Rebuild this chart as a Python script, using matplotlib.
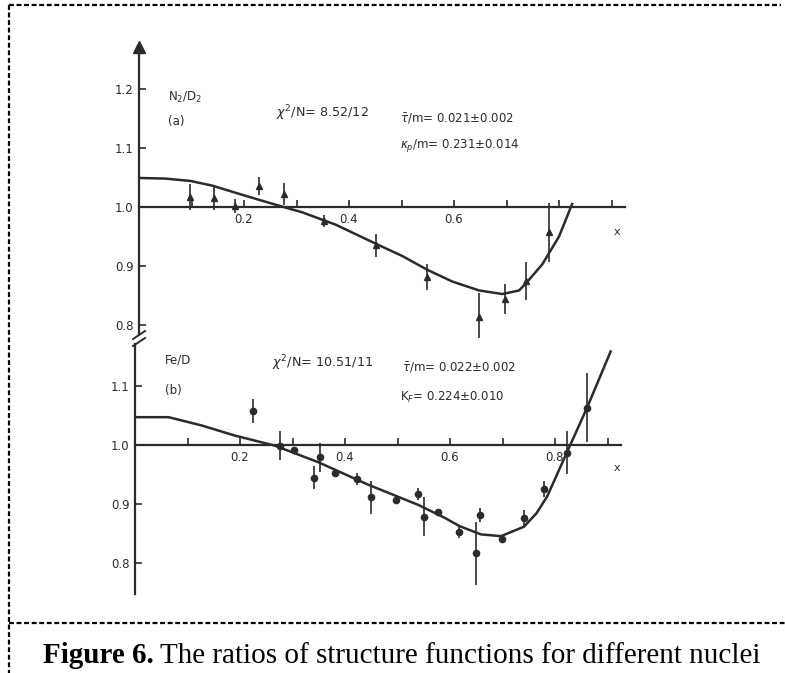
import matplotlib
matplotlib.use("Agg")
import matplotlib.pyplot as plt
from matplotlib.lines import Line2D

W, H = 785, 673
INK = "#2b2b2b"

# ---------------- data ----------------
# panel (a): N2/D2
a_x = [0.098, 0.142, 0.182, 0.229, 0.276, 0.352, 0.451, 0.549, 0.648, 0.697, 0.738, 0.781]
a_y = [1.017, 1.015, 1.002, 1.036, 1.022, 0.976, 0.935, 0.881, 0.815, 0.845, 0.875, 0.957]
a_err = [0.022, 0.020, 0.012, 0.015, 0.018, 0.010, 0.020, 0.022, 0.040, 0.025, 0.032, 0.050]
a_fit_x = [0.003, 0.050, 0.098, 0.140, 0.184, 0.229, 0.260, 0.311, 0.375, 0.451, 0.502, 0.549,
           0.597, 0.648, 0.692, 0.724, 0.738, 0.768, 0.800, 0.825]
a_fit_y = [1.049, 1.048, 1.044, 1.036, 1.024, 1.012, 1.004, 0.991, 0.970, 0.938, 0.917, 0.894,
           0.874, 0.859, 0.853, 0.859, 0.872, 0.903, 0.950, 1.005]

# panel (b): Fe/D
b_x = [0.225, 0.276, 0.303, 0.341, 0.352, 0.380, 0.422, 0.449, 0.497, 0.539,
       0.550, 0.577, 0.618, 0.649, 0.657, 0.699, 0.740, 0.779, 0.822, 0.861]
b_y = [1.057, 0.999, 0.991, 0.945, 0.979, 0.952, 0.943, 0.912, 0.907, 0.917,
       0.879, 0.886, 0.853, 0.817, 0.882, 0.841, 0.877, 0.926, 0.987, 1.063]
b_err = [0.020, 0.025, 0.005, 0.020, 0.025, 0.005, 0.010, 0.028, 0.005, 0.010,
         0.033, 0.005, 0.010, 0.053, 0.012, 0.006, 0.014, 0.014, 0.036, 0.058]
b_fit_x = [0.004, 0.064, 0.127, 0.190, 0.266, 0.349, 0.444, 0.539, 0.590, 0.618, 0.659,
           0.697, 0.741, 0.765, 0.785, 0.823, 0.861, 0.906]
b_fit_y = [1.047, 1.047, 1.033, 1.016, 0.999, 0.971, 0.933, 0.899, 0.877, 0.863, 0.849,
           0.846, 0.862, 0.885, 0.913, 0.988, 1.063, 1.158]

a_yticks = [0.8, 0.9, 1.0, 1.1, 1.2]
a_yticklabels = ["0.8", "0.9", "1.0", "1.1", "1.2"]
b_yticks = [0.8, 0.9, 1.0, 1.1]
b_yticklabels = ["0.8", "0.9", "1.0", "1.1"]
xticks = [0.1, 0.2, 0.3, 0.4, 0.5, 0.6, 0.7, 0.8, 0.9]
a_xticklabels = ["", "0.2", "", "0.4", "", "0.6", "", "", ""]
b_xticklabels = ["", "0.2", "", "0.4", "", "0.6", "", "0.8", ""]

# ---------------- figure ----------------
fig = plt.figure(figsize=(W / 100, H / 100), dpi=100)
fig.patch.set_facecolor("white")


def fx(px):
    return px / W


def fy(py):
    return 1 - py / H


def setup(ax, x0px, one_px, top_px, bot_px, left_px, right_px, ybounds):
    scale_x = 525.0
    scale_y = 592.0
    ax.set_xlim((left_px - x0px) / scale_x, (right_px - x0px) / scale_x)
    ax.set_ylim(1 - (bot_px - one_px) / scale_y, 1 + (one_px - top_px) / scale_y)
    ax.patch.set_alpha(0)
    for s in ("top", "right"):
        ax.spines[s].set_visible(False)
    ax.spines["left"].set_position(("data", 0))
    ax.spines["bottom"].set_position(("data", 1.0))
    ax.spines["bottom"].set_bounds(0, 0.925)
    ax.spines["left"].set_bounds(*ybounds)
    for s in ("left", "bottom"):
        ax.spines[s].set_color(INK)
        ax.spines[s].set_linewidth(1.6)
    ax.tick_params(axis="both", direction="in", colors=INK, labelsize=8.5,
                   length=5, width=1.2, pad=4)


# panel (a)
ax1 = fig.add_axes([fx(120), fy(338), 520 / W, 300 / H])
setup(ax1, 139, 207, 38, 338, 120, 640, (0.785, 1.27))
ax1.set_xticks(xticks)
ax1.set_xticklabels(a_xticklabels)
ax1.set_yticks(a_yticks)
ax1.set_yticklabels(a_yticklabels)
ax1.plot(a_fit_x, a_fit_y, color=INK, lw=1.8, solid_joinstyle="round")
ax1.errorbar(a_x, a_y, yerr=a_err, fmt="^", ms=4.5, color=INK, ecolor=INK,
             elinewidth=1.2, capsize=0)
ax1.plot([0], [1.27], marker="^", ms=8, color=INK, clip_on=False)

# panel (b)
ax2 = fig.add_axes([fx(116), fy(600), 520 / W, 262 / H])
setup(ax2, 135, 445, 338, 600, 116, 636, (0.748, 1.17))
ax2.set_xticks(xticks)
ax2.set_xticklabels(b_xticklabels)
ax2.set_yticks(b_yticks)
ax2.set_yticklabels(b_yticklabels)
ax2.plot(b_fit_x, b_fit_y, color=INK, lw=1.8, solid_joinstyle="round")
ax2.errorbar(b_x, b_y, yerr=b_err, fmt="o", ms=4.5, color=INK, ecolor=INK,
             elinewidth=1.2, capsize=0)

# axis break marks
for dy in (0, 7):
    fig.add_artist(Line2D([fx(133), fx(145)], [fy(339 + dy), fy(331 + dy)],
                          color=INK, lw=1.4))

# axis "x" labels
fig.text(fx(617), fy(232), "x", fontsize=8, color=INK, ha="center", va="center")
fig.text(fx(617), fy(468), "x", fontsize=8, color=INK, ha="center", va="center")

# annotations panel (a)
tk = dict(fontsize=8.5, color=INK, va="center", ha="left")
tc = dict(fontsize=9.2, color=INK, va="center", ha="left")
fig.text(fx(168), fy(97), r"N$_2$/D$_2$", **tk)
fig.text(fx(168), fy(121), "(a)", **tk)
fig.text(fx(276), fy(113), r"$\chi^2$/N= 8.52/12", **tc)
fig.text(fx(400), fy(119), r"$\bar{\tau}$/m= 0.021±0.002", **tk)
fig.text(fx(400), fy(146), r"$\kappa_p$/m= 0.231±0.014", **tk)

# annotations panel (b)
fig.text(fx(165), fy(360), "Fe/D", **tk)
fig.text(fx(165), fy(390), "(b)", **tk)
fig.text(fx(272), fy(363), r"$\chi^2$/N= 10.51/11", **tc)
fig.text(fx(402), fy(368), r"$\bar{\tau}$/m= 0.022±0.002", **tk)
fig.text(fx(400), fy(397), r"K$_F$= 0.224±0.010", **tk)

# dashed frame
frame = dict(color="black", lw=1.6, linestyle=(0, (2.2, 1.2)))
fig.add_artist(Line2D([fx(9), fx(9)], [fy(5), fy(673)], **frame))
fig.add_artist(Line2D([fx(9), fx(781)], [fy(5), fy(5)], **frame))
fig.add_artist(Line2D([fx(9), fx(785)], [fy(623), fy(623)], **frame))

# caption
fig.canvas.draw()
t1 = fig.text(fx(43), fy(663), "Figure 6.", fontsize=21, fontweight="bold",
              family="Liberation Serif", color="black", va="baseline", ha="left")
r = fig.canvas.get_renderer()
bb = t1.get_window_extent(renderer=r)
fig.text((bb.x1 + 6) / W, fy(663), "The ratios of structure functions for different nuclei",
         fontsize=21, family="Liberation Serif", color="black", va="baseline", ha="left")

fig.savefig("out.png", dpi=100, facecolor="white")
